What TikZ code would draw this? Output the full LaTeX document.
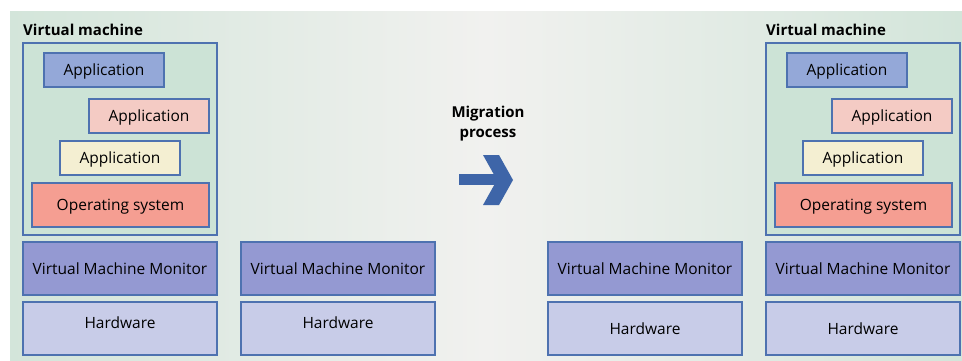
\documentclass[tikz,border=0pt]{standalone}
\usepackage{fontspec}
\setmainfont{Open Sans}
\definecolor{bgG}{HTML}{D3E5DA}
\definecolor{bgM}{HTML}{F1F1EF}
\definecolor{edge}{HTML}{4E72B0}
\definecolor{vmfill}{HTML}{CCE3D6}
\definecolor{appA}{HTML}{94A8D8}
\definecolor{appB}{HTML}{F4CBC4}
\definecolor{appC}{HTML}{F4EFD2}
\definecolor{osfill}{HTML}{F59E92}
\definecolor{vmmfill}{HTML}{9499D2}
\definecolor{hwfill}{HTML}{C8CCE8}
\definecolor{arrowc}{HTML}{3E65A8}
\begin{document}
\begin{tikzpicture}[x=1pt,y=-1pt,
  box/.style={draw=edge,line width=1.2pt,inner sep=0pt,text height=15pt,text depth=3.5pt,font=\fontsize{15.5}{18}\selectfont},
  appbox/.style={box,minimum width=120pt,minimum height=34pt},
  osbox/.style={box,fill=osfill,minimum width=177pt,minimum height=44pt},
  vmbox/.style={box,fill=vmfill,minimum width=194pt,minimum height=192pt},
  vmmbox/.style={box,fill=vmmfill,minimum width=194pt,minimum height=53pt},
  hwbox/.style={box,fill=hwfill,minimum width=194pt,minimum height=53pt},
  lbl/.style={font=\bfseries\fontsize{15}{18}\selectfont,inner sep=0pt},
  txt/.style={font=\fontsize{15.5}{18}\selectfont,inner sep=0pt,text height=15pt,text depth=3.5pt}]
\useasboundingbox (0,0) rectangle (962,361);
\shade[left color=bgG,right color=bgG,middle color=bgM] (10,12) rectangle (962,361);

% left VM
\node[lbl,anchor=west] (vmlabL) at (23,30) {Virtual machine};
\node[vmbox] (vmL) at (120,139) {};
\node[appbox,fill=appA] (a1L) at (104,70) {Application};
\node[appbox,fill=appB] (a2L) at (149,116) {Application};
\node[appbox,fill=appC] (a3L) at (120,158) {Application};
\node[osbox] (osL) at (120.5,205) {Operating system};
\node[vmmbox] (vmm1) at (120,268.5) {Virtual Machine Monitor};
\node[hwbox] (hw1) at (120,328.5) {};
\node[txt] (hw1t) at (120,323) {Hardware};

% second host
\node[vmmbox] (vmm2) at (338,268.5) {Virtual Machine Monitor};
\node[hwbox] (hw2) at (338,328.5) {};
\node[txt] (hw2t) at (338,323) {Hardware};

% migration
\node[lbl,align=center,font=\bfseries\fontsize{15}{20}\selectfont] (mig) at (488,124) {Migration\\process};
\fill[arrowc] (459,174) rectangle (501,185);
\fill[arrowc] (483,155) -- (499,155) -- (513,180) -- (499,205) -- (483,205) -- (497,180) -- cycle;

% third host
\node[vmmbox] (vmm3) at (645,268.5) {Virtual Machine Monitor};
\node[hwbox] (hw3) at (645,328.5) {Hardware};

% right VM
\node[lbl,anchor=west] (vmlabR) at (766,30) {Virtual machine};
\node[vmbox] (vmR) at (863,139) {};
\node[appbox,fill=appA] (a1R) at (847,70) {Application};
\node[appbox,fill=appB] (a2R) at (892,116) {Application};
\node[appbox,fill=appC] (a3R) at (863,158) {Application};
\node[osbox] (osR) at (863.5,205) {Operating system};
\node[vmmbox] (vmm4) at (863,268.5) {Virtual Machine Monitor};
\node[hwbox] (hw4) at (863,328.5) {Hardware};
\end{tikzpicture}
\end{document}
